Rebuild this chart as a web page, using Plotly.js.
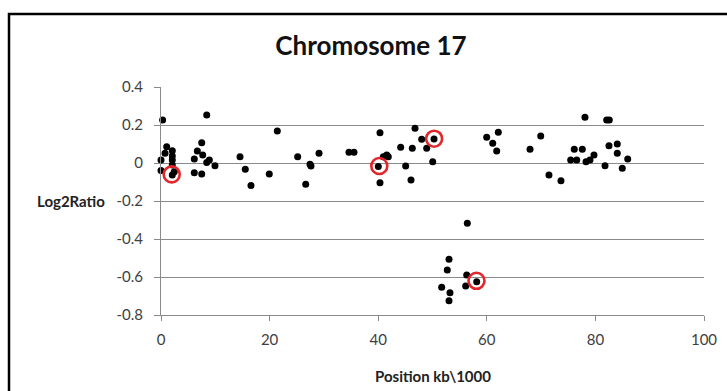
<!DOCTYPE html>
<html>
<head>
<meta charset="utf-8">
<script src="https://cdn.plot.ly/plotly-3.0.1.min.js"></script>
<style>html,body{margin:0;padding:0;background:#fff;}#chart{width:727px;height:391px;}</style>
</head>
<body>
<div id="chart"></div>
<script>
// Position (kb/1000) and Log2Ratio values
const posX = [0.3, 0.0, 0.0, 1.05, 0.74, 2.08, 2.08, 2.08, 2.08, 2.08, 2.45,
  6.13, 6.69, 7.5, 7.68, 8.42, 8.42, 8.9, 9.94, 6.13, 7.5,
  14.55, 15.52, 16.57, 19.94, 21.42,
  25.17, 27.44, 27.62, 29.1, 26.65, 34.62, 35.54,
  40.33, 40.02, 40.33, 40.94, 41.57, 41.86, 44.14, 46.28, 45.06, 46.04, 46.78, 48.01, 48.93,
  50.28, 50.04, 59.98, 62.12, 61.09, 61.82, 67.96, 69.93, 71.45, 73.66,
  78.08, 82.08, 82.56, 76.11, 77.59, 75.45, 76.56, 78.27, 79.0, 79.74, 81.77, 82.5, 84.03, 84.03, 84.95, 85.95,
  56.41, 53.04, 52.72, 56.3, 58.14, 56.11, 51.69, 53.22, 53.04];
const log2Ratio = [0.226, 0.016, -0.04, 0.086, 0.051, 0.065, 0.037, 0.016, -0.011, -0.063, -0.046,
  0.021, 0.063, 0.107, 0.042, 0.253, 0.002, 0.016, -0.014, -0.051, -0.058,
  0.033, -0.033, -0.119, -0.058, 0.168,
  0.033, -0.007, -0.016, 0.051, -0.112, 0.056, 0.056,
  0.159, -0.019, -0.104, 0.033, 0.042, 0.033, 0.083, 0.077, -0.016, -0.089, 0.183, 0.125, 0.077,
  0.126, 0.007, 0.135, 0.162, 0.104, 0.063, 0.072, 0.142, -0.063, -0.093,
  0.241, 0.226, 0.226, 0.072, 0.072, 0.016, 0.016, 0.007, 0.016, 0.042, -0.014, 0.091, 0.1, 0.051, -0.028, 0.021,
  -0.317, -0.507, -0.563, -0.589, -0.625, -0.647, -0.654, -0.683, -0.725];

// Highlighted (circled) probes
const circX = [1.97, 40.2, 50.3, 58.1];
const circY = [-0.06, -0.016, 0.128, -0.62];

const xTicks = [0, 20, 40, 60, 80, 100];
const yTicks = [0.4, 0.2, 0, -0.2, -0.4, -0.6, -0.8];
const yTickText = ['0.4', '0.2', '0', '-0.2', '-0.4', '-0.6', '-0.8'];

const FONT = 'Lato, "Open Sans", sans-serif';
const L = 161, R = 23, T = 87, B = 76;
const W = 727 - L - R, H = 391 - T - B;
const px = v => (v - L) / W;
const py = v => (391 - B - v) / H;

const traces = [
  {x: posX, y: log2Ratio, type: 'scatter', mode: 'markers',
   marker: {color: '#000000', size: 7}, hoverinfo: 'x+y', cliponaxis: false},
  {x: circX, y: circY, type: 'scatter', mode: 'markers',
   marker: {symbol: 'circle-open', color: '#e3262b', size: 16, line: {width: 2.6, color: '#e3262b'}},
   hoverinfo: 'skip', cliponaxis: false}
];

const layout = {
  width: 727, height: 391,
  margin: {l: L, r: R, t: T, b: B},
  paper_bgcolor: '#ffffff', plot_bgcolor: '#ffffff',
  showlegend: false,
  font: {family: FONT, color: '#404040'},
  title: {text: 'Chromosome 17', font: {family: FONT, size: 26, color: '#111111', weight: 'bold'},
          xref: 'container', x: 371 / 727, xanchor: 'center',
          yref: 'container', y: 1 - 46 / 391, yanchor: 'middle'},
  xaxis: {range: [0, 100], tickvals: xTicks, ticktext: xTicks.map(String),
          showgrid: false, zeroline: false, showline: true, linecolor: '#8a8a8a', linewidth: 1,
          ticks: 'outside', ticklen: 5, tickcolor: '#8a8a8a', ticklabelstandoff: 6,
          tickfont: {family: FONT, size: 15, color: '#404040'}, fixedrange: true},
  yaxis: {range: [-0.8, 0.4], tickvals: yTicks, ticktext: yTickText,
          showgrid: true, gridcolor: '#8a8a8a', gridwidth: 1, zeroline: false,
          showline: true, linecolor: '#8a8a8a', linewidth: 1,
          ticks: 'outside', ticklen: 6, tickcolor: '#8a8a8a', ticklabelstandoff: 8,
          tickfont: {family: FONT, size: 15, color: '#404040'}, fixedrange: true},
  annotations: [
    {text: 'Log2Ratio', xref: 'paper', yref: 'paper', x: px(71), y: py(201), xanchor: 'center', yanchor: 'middle',
     showarrow: false, font: {family: FONT, size: 15, color: '#222222', weight: 'bold'}},
    {text: 'Position kb\\1000', xref: 'paper', yref: 'paper', x: px(433), y: py(376), xanchor: 'center', yanchor: 'middle',
     showarrow: false, font: {family: FONT, size: 15, color: '#222222', weight: 'bold'}}
  ],
  shapes: [
    {type: 'rect', xref: 'paper', yref: 'paper', x0: px(9), x1: px(760), y0: py(420), y1: py(14),
     line: {color: '#000000', width: 2.5}, fillcolor: 'rgba(0,0,0,0)', layer: 'above'}
  ]
};

Plotly.newPlot('chart', traces, layout, {displayModeBar: false, staticPlot: true});
</script>
</body>
</html>
